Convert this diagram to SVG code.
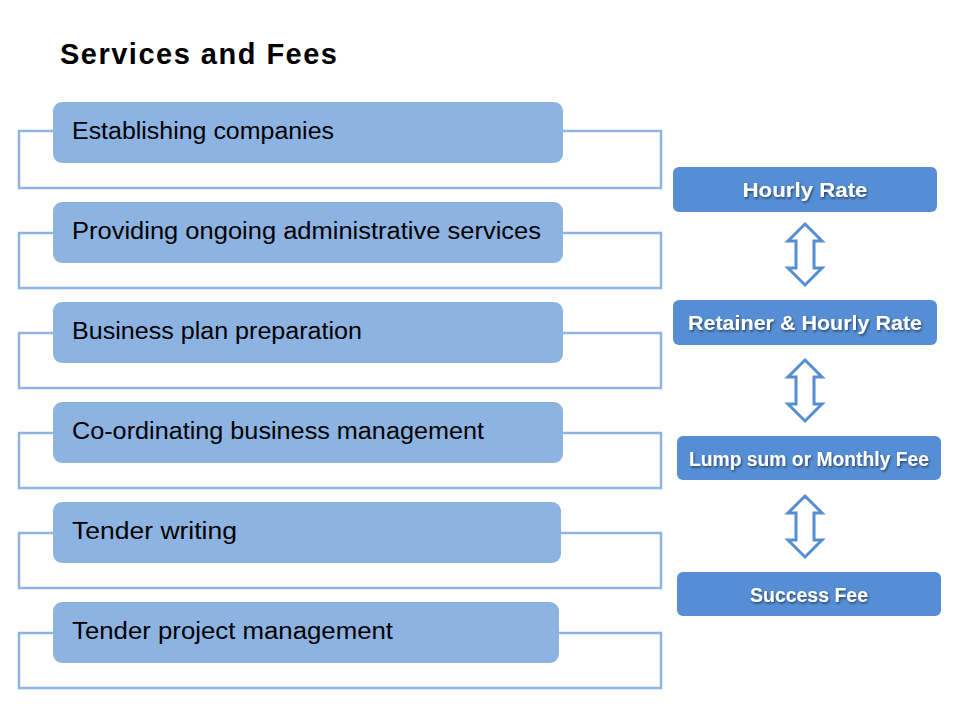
<svg xmlns="http://www.w3.org/2000/svg" width="960" height="720" viewBox="0 0 960 720">
<style>
.br{fill:none;stroke:#8EB4E3;stroke-width:2.5}
.sv{fill:#8DB3E2}
.st{font-family:"Liberation Sans",Arial,sans-serif;font-size:23px;fill:#000}
.fee{fill:#558ED5}
.ft{font-family:"Liberation Sans",Arial,sans-serif;font-size:20px;font-weight:bold;fill:#fff;text-anchor:middle;filter:url(#sh)}
.ar{fill:#fff;stroke:#558ED5;stroke-width:3;stroke-linejoin:miter}
</style>
<defs>
<filter id="sh" x="-10%" y="-30%" width="120%" height="160%">
<feDropShadow dx="1" dy="1.5" stdDeviation="0.8" flood-color="#000" flood-opacity="0.55"/>
</filter>
</defs>
<rect width="960" height="720" fill="#fff"/>
<text x="60" y="64" font-family="'Liberation Sans',Arial,sans-serif" font-size="29" font-weight="bold" fill="#000" textLength="277">Services and Fees</text>
<g id="connectors">
<rect class="br" x="19" y="131" width="642" height="57"/>
<rect class="br" x="19" y="233" width="642" height="55"/>
<rect class="br" x="19" y="333" width="642" height="55"/>
<rect class="br" x="19" y="433" width="642" height="55"/>
<rect class="br" x="19" y="533" width="642" height="55"/>
<rect class="br" x="19" y="633" width="642" height="55"/>
<path class="ar" d="M805,224 L822,241 L814,241 L814,268 L822,268 L805,285 L788,268 L796,268 L796,241 L788,241 Z"/>
<path class="ar" d="M805,360 L822,377 L814,377 L814,404 L822,404 L805,421 L788,404 L796,404 L796,377 L788,377 Z"/>
<path class="ar" d="M805,496 L822,513 L814,513 L814,540 L822,540 L805,557 L788,540 L796,540 L796,513 L788,513 Z"/>
</g>
<g id="s1"><rect class="sv" x="53" y="102" width="510" height="61" rx="9"/><text class="st" x="72" y="139" textLength="262" lengthAdjust="spacingAndGlyphs">Establishing companies</text></g>
<g id="s2"><rect class="sv" x="53" y="202" width="510" height="61" rx="9"/><text class="st" x="72" y="239" textLength="469" lengthAdjust="spacingAndGlyphs">Providing ongoing administrative services</text></g>
<g id="s3"><rect class="sv" x="53" y="302" width="510" height="61" rx="9"/><text class="st" x="72" y="339" textLength="290" lengthAdjust="spacingAndGlyphs">Business plan preparation</text></g>
<g id="s4"><rect class="sv" x="53" y="402" width="510" height="61" rx="9"/><text class="st" x="72" y="439" textLength="412" lengthAdjust="spacingAndGlyphs">Co-ordinating business management</text></g>
<g id="s5"><rect class="sv" x="53" y="502" width="508" height="61" rx="9"/><text class="st" x="72" y="539" textLength="165" lengthAdjust="spacingAndGlyphs">Tender writing</text></g>
<g id="s6"><rect class="sv" x="53" y="602" width="506" height="61" rx="9"/><text class="st" x="72" y="639" textLength="321" lengthAdjust="spacingAndGlyphs">Tender project management</text></g>
<g id="f1"><rect class="fee" x="673" y="167" width="264" height="45" rx="6"/><text class="ft" x="805" y="197" textLength="125" lengthAdjust="spacingAndGlyphs">Hourly  Rate</text></g>
<g id="f2"><rect class="fee" x="673" y="300" width="264" height="45" rx="6"/><text class="ft" x="805" y="330" textLength="234" lengthAdjust="spacingAndGlyphs">Retainer &amp; Hourly Rate</text></g>
<g id="f3"><rect class="fee" x="677" y="436" width="264" height="44" rx="6"/><text class="ft" x="809" y="466" textLength="240" lengthAdjust="spacingAndGlyphs">Lump sum or Monthly Fee</text></g>
<g id="f4"><rect class="fee" x="677" y="572" width="264" height="44" rx="6"/><text class="ft" x="809" y="602" textLength="118" lengthAdjust="spacingAndGlyphs">Success Fee</text></g>
</svg>
